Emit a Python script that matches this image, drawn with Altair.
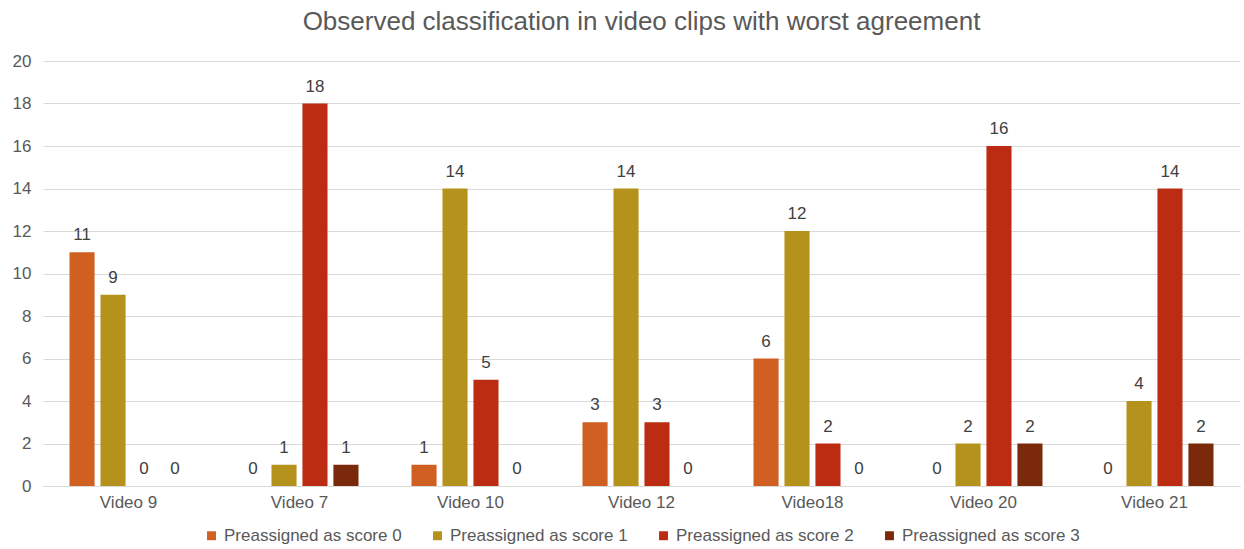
import altair as alt
import pandas as pd

videos = ["Video 9", "Video 7", "Video 10", "Video 12", "Video18", "Video 20", "Video 21"]
series = ["Preassigned as score 0", "Preassigned as score 1", "Preassigned as score 2", "Preassigned as score 3"]
score0 = [11, 0, 1, 3, 6, 0, 0]
score1 = [9, 1, 14, 14, 12, 2, 4]
score2 = [0, 18, 5, 3, 2, 16, 14]
score3 = [0, 1, 0, 0, 0, 2, 2]
colors = ["#D05F22", "#B5921B", "#BB2C12", "#7A2A0A"]

rows = []
for s, vals in zip(series, [score0, score1, score2, score3]):
    for v, val in zip(videos, vals):
        rows.append({"video": v, "series": s, "value": val})
df = pd.DataFrame(rows)

FONT = "Liberation Sans"

x = alt.X("video:N", sort=videos, title=None,
          scale=alt.Scale(paddingInner=0.31, paddingOuter=0.155),
          axis=alt.Axis(labelAngle=0, labelFontSize=17, labelColor="#595959", labelFont=FONT,
                        ticks=False, domainColor="#D9D9D9", labelPadding=8, grid=False))
xo = alt.XOffset("series:N", sort=series, scale=alt.Scale(paddingInner=0.19, paddingOuter=0.0))
y = alt.Y("value:Q", title=None,
          scale=alt.Scale(domain=[0, 20]),
          axis=alt.Axis(values=list(range(0, 21, 2)), labelFontSize=17, labelColor="#595959",
                        labelFont=FONT, ticks=False, domain=False, gridColor="#D9D9D9",
                        labelPadding=12))

base = alt.Chart(df)
bars = base.mark_bar().encode(
    x=x, xOffset=xo, y=y,
    color=alt.Color("series:N", sort=series,
                    scale=alt.Scale(domain=series, range=colors),
                    legend=alt.Legend(title=None, orient="none", legendX=160, legendY=466,
                                      direction="horizontal", columns=4, symbolType="square",
                                      symbolSize=80, labelFontSize=17, labelFont=FONT,
                                      labelColor="#595959", columnPadding=27, labelLimit=0,
                                      symbolStrokeWidth=0)),
)
labels = base.mark_text(dy=-17, fontSize=17, font=FONT, color="#404040").encode(
    x=x, xOffset=xo, y=y, text="value:Q")

chart = alt.layer(bars, labels).properties(
    width=1197, height=425,
    title=alt.TitleParams("Observed classification in video clips with worst agreement",
                          fontSize=26, font=FONT, color="#595959", fontWeight="normal",
                          anchor="middle", offset=17),
    autosize=alt.AutoSizeParams(type="none"),
    padding={"left": 43, "top": 61, "right": 4, "bottom": 63},
).configure_view(stroke=None)

chart.save("out.html", embed_options={"renderer": "svg", "actions": False})
